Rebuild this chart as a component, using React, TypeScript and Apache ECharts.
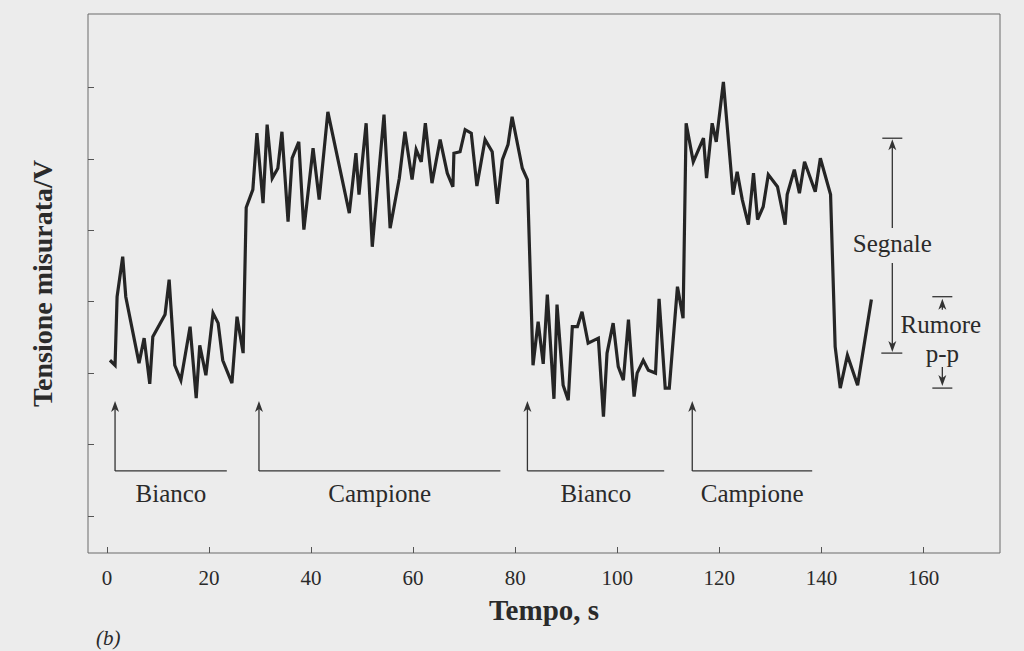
import React, { useEffect, useRef } from "react";
import * as echarts from "echarts";

const timeS = [
  0.6, 1.6, 2.0, 3.1, 3.7, 6.3, 7.3, 8.4, 9.0, 11.4, 12.2, 13.3, 14.5, 16.3, 17.5, 18.2, 19.4, 20.8, 21.8, 22.7,
  24.5, 25.5, 26.7, 27.3, 28.6, 29.4, 30.6, 31.4, 32.4, 33.5, 34.3, 35.5, 36.3, 37.6, 38.6, 40.4, 41.6, 43.3,
  47.5, 48.8, 49.4, 50.8, 52.0, 54.3, 55.5, 57.3, 58.4, 59.8, 60.6, 61.6, 62.4, 63.7, 65.3, 66.7, 67.8, 68.0,
  69.2, 70.2, 71.4, 72.5, 74.1, 75.5, 76.5, 77.5, 78.6, 79.4, 81.4, 82.4, 83.5, 84.5, 85.5, 86.3, 87.6, 88.2,
  89.4, 90.4, 91.2, 92.2, 93.1, 94.3, 96.3, 97.3, 98.0, 99.2, 100.2, 101.2, 102.2, 103.3, 103.9, 105.1, 106.1,
  107.5, 108.2, 109.4, 110.2, 111.8, 112.9, 113.5, 114.9, 116.9, 117.5, 118.6, 119.4, 120.8, 122.7, 123.5,
  124.5, 125.7, 126.7, 127.5, 128.6, 129.6, 131.4, 132.9, 133.3, 134.7, 135.7, 136.7, 138.8, 139.8, 141.8,
  142.7, 143.7, 145.1, 147.1, 149.8,
];
const voltage = [
  2.18, 2.11, 3.07, 3.63, 3.07, 2.14, 2.49, 1.85, 2.51, 2.82, 3.31, 2.11, 1.9, 2.65, 1.65, 2.39, 1.97, 2.84, 2.7, 2.18,
  1.86, 2.79, 2.28, 4.32, 4.57, 5.36, 4.38, 5.48, 4.73, 4.87, 5.38, 4.12, 5.01, 5.24, 4.01, 5.15, 4.43, 5.66,
  4.24, 5.08, 4.5, 5.5, 3.77, 5.62, 4.03, 4.73, 5.38, 4.71, 5.13, 4.96, 5.5, 4.66, 5.27, 4.8, 4.61, 5.08,
  5.1, 5.41, 5.36, 4.62, 5.27, 5.1, 4.37, 4.99, 5.2, 5.59, 4.87, 4.71, 2.11, 2.72, 2.13, 3.1, 1.64, 2.96,
  1.83, 1.62, 2.65, 2.65, 2.86, 2.42, 2.49, 1.39, 2.28, 2.7, 2.09, 1.9, 2.75, 1.67, 2.0, 2.18, 2.04,
  2.0, 3.04, 1.79, 1.79, 3.21, 2.77, 5.5, 4.96, 5.29, 4.73, 5.5, 5.24, 6.08, 4.5, 4.82,
  4.43, 4.08, 4.8, 4.15, 4.33, 4.78, 4.61, 4.08, 4.5, 4.85, 4.52, 4.96, 4.54, 5.01, 4.5,
  2.37, 1.79, 2.25, 1.83, 3.03,
];

const xTicks = [0, 20, 40, 60, 80, 100, 120, 140, 160];
const yTicks = [0, 1, 2, 3, 4, 5, 6];

// Bracket annotations (time range, label)
const bracketLabels = ["Bianco", "Campione", "Bianco", "Campione"];
const bracketStart = [1.6, 29.8, 82.4, 114.7];
const bracketEnd = [23.5, 77.1, 109.2, 138.2];
const arrowTipV = 1.61;
const bracketV = 0.63;
const bracketLabelV = 0.31;

// Signal / noise markers
const signalX = 153.9;
const signalTopV = 5.29;
const signalBottomV = 2.28;
const signalLabelV = 3.81;
const noiseX = 163.7;
const noiseTopV = 3.07;
const noiseBottomV = 1.79;
const noiseLabelV = 2.68;
const ppLabelV = 2.28;

const FONT = "'Liberation Serif', 'DejaVu Serif', serif";
const INK = "#2a2a2a";

export default function App() {
  const ref = useRef<HTMLDivElement>(null);

  useEffect(() => {
    document.body.style.margin = "0";
    const el = ref.current!;
    const chart = echarts.init(el, null, { renderer: "svg" });
    chart.setOption({
      animation: false,
      backgroundColor: "#ececec",
      grid: {
        left: 88,
        right: 24,
        top: 14,
        bottom: 98,
        show: true,
        borderColor: "#6a6a6a",
        borderWidth: 1,
        backgroundColor: "transparent",
      },
      xAxis: {
        type: "value",
        min: -3.7,
        max: 175,
        name: "Tempo, s",
        nameLocation: "middle",
        nameGap: 42,
        nameTextStyle: { fontFamily: FONT, fontSize: 29, fontWeight: "bold", color: INK },
        axisLine: { show: false, onZero: false },
        splitLine: { show: false },
        axisTick: {
          show: true,
          inside: true,
          length: 6,
          customValues: xTicks,
          lineStyle: { color: "#555", width: 1 },
        },
        axisLabel: {
          customValues: xTicks,
          fontFamily: FONT,
          fontSize: 21,
          color: INK,
          margin: 14,
        },
      },
      yAxis: {
        type: "value",
        min: -0.52,
        max: 7.03,
        name: "Tensione misurata/V",
        nameLocation: "middle",
        nameRotate: 90,
        nameGap: 32,
        nameTextStyle: { fontFamily: FONT, fontSize: 28, fontWeight: "bold", color: INK },
        axisLine: { show: false, onZero: false },
        splitLine: { show: false },
        axisTick: {
          show: true,
          inside: true,
          length: 6,
          customValues: yTicks,
          lineStyle: { color: "#555", width: 1 },
        },
        axisLabel: { show: false },
      },
      series: [
        {
          type: "line",
          data: timeS.map((t, i) => [t, voltage[i]]),
          symbol: "none",
          lineStyle: { color: "#252525", width: 3.2, join: "miter", miterLimit: 4 },
        },
      ],
    });

    const px = (x: number, y: number) => chart.convertToPixel({ gridIndex: 0 }, [x, y]) as number[];
    const thin = { stroke: "#333", lineWidth: 1.3 };
    const g: any[] = [];
    const line = (a: number[], b: number[]) =>
      g.push({ type: "line", shape: { x1: a[0], y1: a[1], x2: b[0], y2: b[1] }, style: thin, silent: true });
    const headUp = (p: number[]) =>
      g.push({
        type: "polygon",
        shape: { points: [[p[0], p[1]], [p[0] - 4, p[1] + 11], [p[0], p[1] + 8], [p[0] + 4, p[1] + 11]] },
        style: { fill: "#333" },
        silent: true,
      });
    const headDown = (p: number[]) =>
      g.push({
        type: "polygon",
        shape: { points: [[p[0], p[1]], [p[0] - 4, p[1] - 11], [p[0], p[1] - 8], [p[0] + 4, p[1] - 11]] },
        style: { fill: "#333" },
        silent: true,
      });
    const text = (p: number[], s: string, size: number, extra: any = {}) =>
      g.push({
        type: "text",
        x: p[0],
        y: p[1],
        style: {
          text: s,
          fontFamily: FONT,
          fontSize: size,
          fill: INK,
          align: "center",
          verticalAlign: "middle",
          ...extra,
        },
        silent: true,
      });

    bracketLabels.forEach((lab, i) => {
      const tip = px(bracketStart[i], arrowTipV);
      const corner = px(bracketStart[i], bracketV);
      const end = px(bracketEnd[i], bracketV);
      line([tip[0], tip[1] + 6], corner);
      line(corner, end);
      headUp(tip);
      const c = px((bracketStart[i] + bracketEnd[i]) / 2, bracketLabelV);
      text(c, lab, 25);
    });

    // Segnale
    const sTop = px(signalX, signalTopV);
    const sBot = px(signalX, signalBottomV);
    const sLab = px(signalX, signalLabelV);
    line([sTop[0] - 10, sTop[1]], [sTop[0] + 10, sTop[1]]);
    line([sBot[0] - 11, sBot[1]], [sBot[0] + 10, sBot[1]]);
    line([sTop[0], sTop[1] + 6], [sLab[0], sLab[1] - 16]);
    headUp([sTop[0], sTop[1] + 1]);
    line([sLab[0], sLab[1] + 19], [sBot[0], sBot[1] - 6]);
    headDown([sBot[0], sBot[1] - 1]);
    text(sLab, "Segnale", 25);

    // Rumore p-p
    const nTop = px(noiseX, noiseTopV);
    const nBot = px(noiseX, noiseBottomV);
    line([nTop[0] - 10, nTop[1]], [nTop[0] + 10, nTop[1]]);
    line([nBot[0] - 10, nBot[1]], [nBot[0] + 10, nBot[1]]);
    line([nTop[0], nTop[1] + 6], [nTop[0], nTop[1] + 13]);
    headUp([nTop[0], nTop[1] + 2]);
    line([nBot[0], nBot[1] - 6], [nBot[0], nBot[1] - 21]);
    headDown([nBot[0], nBot[1] - 2]);
    text(px(noiseX - 0.3, noiseLabelV), "Rumore", 25);
    text(px(noiseX, ppLabelV), "p-p", 25);

    // panel letter
    g.push({
      type: "text",
      x: 96,
      y: 627,
      style: { text: "(b)", fontFamily: FONT, fontSize: 21, fontStyle: "italic", fill: INK },
      silent: true,
    });

    chart.setOption({ graphic: g });

    return () => chart.dispose();
  }, []);

  return (
    <div
      ref={ref}
      style={{ position: "absolute", left: 0, top: 0, width: 1024, height: 651, background: "#ececec" }}
    />
  );
}
